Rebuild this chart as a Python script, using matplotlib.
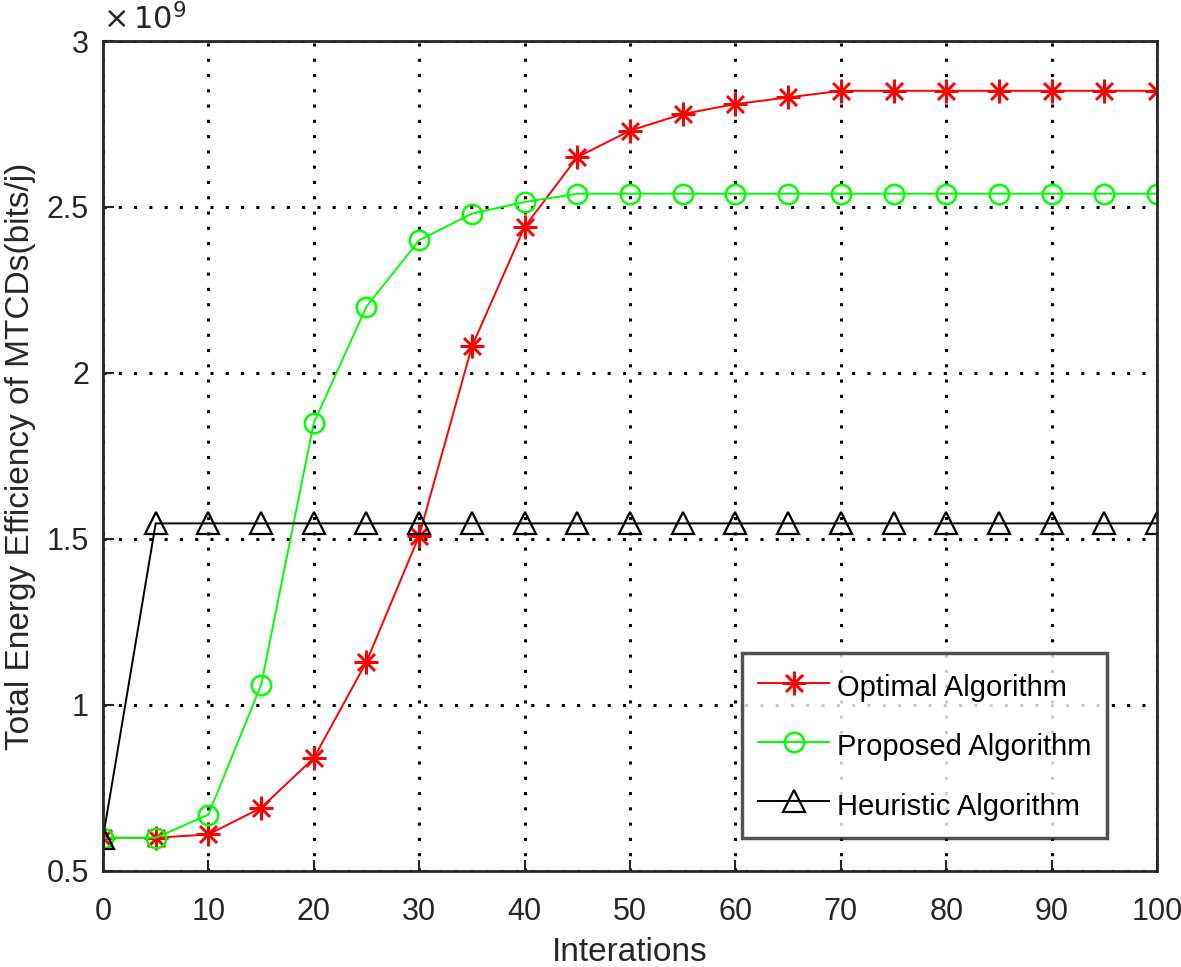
import matplotlib.pyplot as plt
import numpy as np

plt.rcParams['font.family'] = ['Liberation Sans', 'DejaVu Sans']

# Data (values in units of 1e9 bits/J)
iterations = list(range(0, 101, 5))
optimal = [0.60, 0.60, 0.61, 0.69, 0.84, 1.13, 1.51, 2.08, 2.44, 2.65, 2.73,
           2.78, 2.81, 2.83, 2.85, 2.85, 2.85, 2.85, 2.85, 2.85, 2.85]
proposed = [0.60, 0.60, 0.67, 1.06, 1.85, 2.20, 2.40, 2.48, 2.515, 2.54, 2.54,
            2.54, 2.54, 2.54, 2.54, 2.54, 2.54, 2.54, 2.54, 2.54, 2.54]
heuristic = [0.60] + [1.547] * 20

scale = 1e9

fig = plt.figure(figsize=(11.81, 9.67), dpi=100)
ax = fig.add_axes([0.0872, 0.0993, 0.8925, 0.8583])

# MATLAB-like '*' marker: 8 spokes
ax.plot(iterations, np.array(optimal) * scale, color='#ff0000', marker=(8, 2, 0),
        markersize=17, markeredgewidth=1.8, linewidth=1.4, label='Optimal Algorithm')
ax.plot(iterations, np.array(proposed) * scale, color='#00ff00', marker='o',
        markersize=14, markerfacecolor='none', markeredgewidth=1.8, linewidth=1.4,
        label='Proposed Algorithm')
ax.plot(iterations, np.array(heuristic) * scale, color='black', marker='^',
        markersize=16, markerfacecolor='none', markeredgewidth=1.6, linewidth=1.4,
        label='Heuristic Algorithm')

ax.set_xlim(0, 100)
ax.set_ylim(0.5e9, 3e9)
ax.set_xticks(range(0, 101, 10))
ax.set_yticks(np.array([0.5, 1, 1.5, 2, 2.5, 3]) * scale)
ax.set_yticklabels(['0.5', '1', '1.5', '2', '2.5', '3'])
ax.text(0.0, 1.005, r'$\times\,10^{9}$', transform=ax.transAxes, fontsize=22,
        color='#262626', va='bottom', ha='left')

ax.grid(True, linestyle=(0, (1, 4)), color='black', linewidth=2.2)
ax.tick_params(direction='in', length=8, width=1.5, labelsize=22,
               colors='#262626', pad=10, top=False, right=False)
ax.tick_params(axis='x', pad=19)
for s in ax.spines.values():
    s.set_linewidth(2)
    s.set_color('#262626')

ax.set_xlabel('Interations', fontsize=24, color='#262626', labelpad=7)
ax.set_ylabel('Total Energy Efficiency of MTCDs(bits/j)', fontsize=24,
              color='#262626', labelpad=8)

leg = ax.legend(loc='lower right', bbox_to_anchor=(0.9526, 0.0398), fontsize=21,
                frameon=True, fancybox=False, edgecolor='#262626',
                borderaxespad=0, borderpad=0.55, labelspacing=0.88,
                handlelength=2.45, handleheight=1.4, handletextpad=0.25)
leg.get_frame().set_linewidth(2.5)

fig.savefig('out.png', dpi=100)
